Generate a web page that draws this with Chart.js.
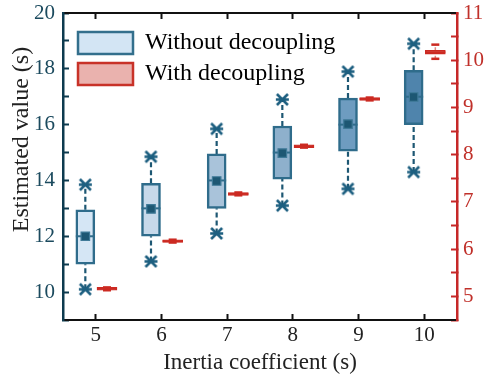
<!DOCTYPE html>
<html>
<head>
<meta charset="utf-8">
<script src="https://cdn.jsdelivr.net/npm/chart.js@4.4.1/dist/chart.umd.min.js"></script>
<style>
  html, body { margin: 0; padding: 0; background: #fff; }
  #wrap { width: 488px; height: 381px; }
</style>
</head>
<body>
<div id="wrap"><canvas id="chart"></canvas></div>
<script>
// inertia coefficient categories
const categories = [5, 6, 7, 8, 9, 10];

// without decoupling (left axis)
const woMin = [10.1, 11.1, 12.1, 13.1, 13.7, 14.3];
const woQ1 = [11.0, 12.0, 13.0, 14.05, 15.05, 16.0];
const woMedian = [12.0, 13.0, 14.0, 15.0, 16.0, 17.0];
const woMean = [12.0, 12.98, 13.98, 14.98, 16.02, 16.99];
const woQ3 = [12.95, 13.9, 14.95, 15.95, 16.95, 17.95];
const woMax = [13.85, 14.85, 15.85, 16.9, 17.9, 18.9];

// with decoupling (right axis)
const wMin = [5.13, 6.14, 7.14, 8.15, 9.15, 10.03];
const wQ1 = [5.13, 6.14, 7.14, 8.15, 9.15, 10.13];
const wMedian = [5.16, 6.17, 7.17, 8.18, 9.18, 10.17];
const wQ3 = [5.19, 6.2, 7.2, 8.21, 9.21, 10.21];
const wMax = [5.19, 6.2, 7.2, 8.21, 9.21, 10.33];

const leftTicks = [10, 12, 14, 16, 18, 20];
const rightTicks = [5, 6, 7, 8, 9, 10, 11];

const boxFills = ["#d5e6f5", "#c7d9ea", "#a9c3da", "#8eb0cc", "#6e9cc0", "#4f84ac"];
const blueEdge = "#2f6c8b";
const blueDark = "#1d5773";
const redEdge = "#cc2a22";
const serif = "'Liberation Serif', 'Times New Roman', serif";

const dx = 0.16;

function star() {
    const c = document.createElement("canvas");
    c.width = 15; c.height = 15;
    const g = c.getContext("2d");
    g.strokeStyle = "#1d5f80";
    g.lineWidth = 2.6;
    g.beginPath();
    g.moveTo(2, 2); g.lineTo(13, 13);
    g.moveTo(13, 2); g.lineTo(2, 13);
    g.moveTo(1, 7.5); g.lineTo(14, 7.5);
    g.stroke();
    return c;
}

function whiskers(xs, lo, q1, q3, hi) {
    const pts = [];
    xs.forEach((x, i) => {
        pts.push({x: x, y: lo[i]}, {x: x, y: q1[i]}, {x: x, y: null});
        pts.push({x: x, y: q3[i]}, {x: x, y: hi[i]}, {x: x, y: null});
    });
    return pts;
}

const xBlue = categories.map(c => c - dx);
const xRed = categories.map(c => c + dx + 0.01);
const pts = (xs, ys) => xs.map((x, i) => ({x: x, y: ys[i]}));
const catTicks = s => { s.ticks = categories.map(v => ({value: v})); };

const starImg = star();

// legend sits inside the plot, a little in from the corner
const legendShift = {
    id: "legendShift",
    afterLayout(chart) {
        chart.legend.left += 8;
        chart.legend.top += 24;
    }
};

const ctx = document.querySelector("#chart").getContext("2d");

new Chart(ctx, {
    data: {
        datasets: [
            {
                type: "scatter", label: "mean", yAxisID: "y", order: 1,
                data: pts(xBlue, woMean),
                pointStyle: "rect", pointRadius: 6,
                backgroundColor: blueDark, borderColor: "#3f7a98", borderWidth: 1.2
            },
            {
                type: "scatter", label: "median", yAxisID: "y", order: 2,
                data: pts(xBlue, woMedian),
                pointStyle: "line", pointRadius: 9.5,
                borderColor: blueEdge, borderWidth: 2
            },
            {
                type: "bar", label: "Without decoupling", yAxisID: "y", order: 3,
                data: xBlue.map((x, i) => ({x: x, y: [woQ1[i], woQ3[i]]})),
                backgroundColor: boxFills, borderColor: blueEdge, borderWidth: 2.5,
                borderSkipped: false, barThickness: 19, grouped: false
            },
            {
                type: "line", label: "whisker", yAxisID: "y", order: 4,
                data: whiskers(xBlue, woMin, woQ1, woQ3, woMax),
                borderColor: blueDark, borderWidth: 2.2, borderDash: [5, 3],
                pointRadius: 0, spanGaps: false
            },
            {
                type: "scatter", label: "outer", yAxisID: "y", order: 0,
                data: pts(xBlue, woMin).concat(pts(xBlue, woMax)),
                pointStyle: starImg
            },
            {
                type: "scatter", label: "red median", yAxisID: "y1", order: 1,
                data: pts(xRed, wMedian),
                pointStyle: "line", pointRadius: 10,
                borderColor: redEdge, borderWidth: 2
            },
            {
                type: "bar", label: "With decoupling", yAxisID: "y1", order: 3,
                data: xRed.map((x, i) => ({x: x, y: [wQ1[i], wQ3[i]]})),
                backgroundColor: "#ebb1ac", borderColor: redEdge, borderWidth: 1.5,
                borderSkipped: false, barThickness: 20, grouped: false
            },
            {
                type: "line", label: "red whisker", yAxisID: "y1", order: 4,
                data: whiskers(xRed, wMin, wQ1, wQ3, wMax),
                borderColor: "#e08a84", borderWidth: 1.5, borderDash: [3, 2],
                pointRadius: 0, spanGaps: false
            },
            {
                type: "scatter", label: "red caps", yAxisID: "y1", order: 2,
                data: pts(xRed, wMin).concat(pts(xRed, wMax)),
                pointStyle: "line", pointRadius: 4,
                borderColor: redEdge, borderWidth: 2.5
            }
        ]
    },
    plugins: [legendShift],
    options: {
        responsive: true,
        maintainAspectRatio: false,
        animation: false,
        layout: { padding: 0 },
        plugins: {
            tooltip: { enabled: false },
            legend: {
                position: "chartArea",
                align: "start",
                labels: {
                    boxWidth: 55,
                    boxHeight: 22,
                    padding: 7,
                    color: "#222",
                    font: { family: serif, size: 24 },
                    generateLabels: () => [
                        { text: "Without decoupling", fillStyle: "#d3e5f4", strokeStyle: "#336f8c", lineWidth: 2.5, datasetIndex: 2 },
                        { text: "With decoupling", fillStyle: "#eab2ae", strokeStyle: "#c83228", lineWidth: 2.5, datasetIndex: 6 }
                    ]
                }
            }
        },
        scales: {
            x: {
                type: "linear", position: "bottom",
                min: 4.5, max: 10.5, offset: false,
                afterBuildTicks: catTicks,
                afterFit: s => { s.height = 61; s.paddingLeft = 0; s.paddingRight = 0; },
                ticks: {
                    padding: 9, autoSkip: false,
                    color: "#222", font: { family: serif, size: 21 },
                    maxRotation: 0
                },
                grid: { drawOnChartArea: false, offset: false, tickLength: -6, tickColor: "#111", tickWidth: 2 },
                border: { color: "#111", width: 2 },
                title: {
                    display: true, text: "Inertia coefficient (s)",
                    color: "#222", font: { family: serif, size: 23 },
                    padding: { top: 0, bottom: 4 }
                }
            },
            x2: {
                type: "linear", position: "top",
                min: 4.5, max: 10.5, offset: false,
                afterBuildTicks: catTicks,
                afterFit: s => { s.height = 13; s.paddingLeft = 0; s.paddingRight = 0; },
                ticks: { display: false },
                grid: { drawOnChartArea: false, offset: false, tickLength: -6, tickColor: "#111", tickWidth: 2 },
                border: { color: "#111", width: 2 }
            },
            y: {
                type: "linear", position: "left",
                min: 9, max: 20,
                afterFit: s => { s.width = 63; s.paddingTop = 0; s.paddingBottom = 0; },
                ticks: {
                    stepSize: 1, padding: 14, autoSkip: false,
                    color: "#1b4a5e", font: { family: serif, size: 21 },
                    callback: v => leftTicks.includes(v) ? v : ""
                },
                grid: { drawOnChartArea: false, tickLength: -6, tickColor: "#0d3b4f", tickWidth: 2 },
                border: { color: "#0d3b4f", width: 2.5 },
                title: {
                    display: true, text: "         Estimated value (s)",
                    color: "#222", font: { family: serif, size: 24 },
                    padding: { top: 7, bottom: 0 }
                }
            },
            y1: {
                type: "linear", position: "right",
                min: 4.5, max: 11,
                afterFit: s => { s.width = 31; s.paddingTop = 0; s.paddingBottom = 0; },
                ticks: {
                    stepSize: 0.5, padding: 12, autoSkip: false,
                    color: "#c0302a", font: { family: serif, size: 21 },
                    callback: v => rightTicks.includes(v) ? v : ""
                },
                grid: { drawOnChartArea: false, tickLength: -6, tickColor: "#c62828", tickWidth: 2 },
                border: { color: "#c62828", width: 2.5 }
            }
        }
    }
});
</script>
</body>
</html>
